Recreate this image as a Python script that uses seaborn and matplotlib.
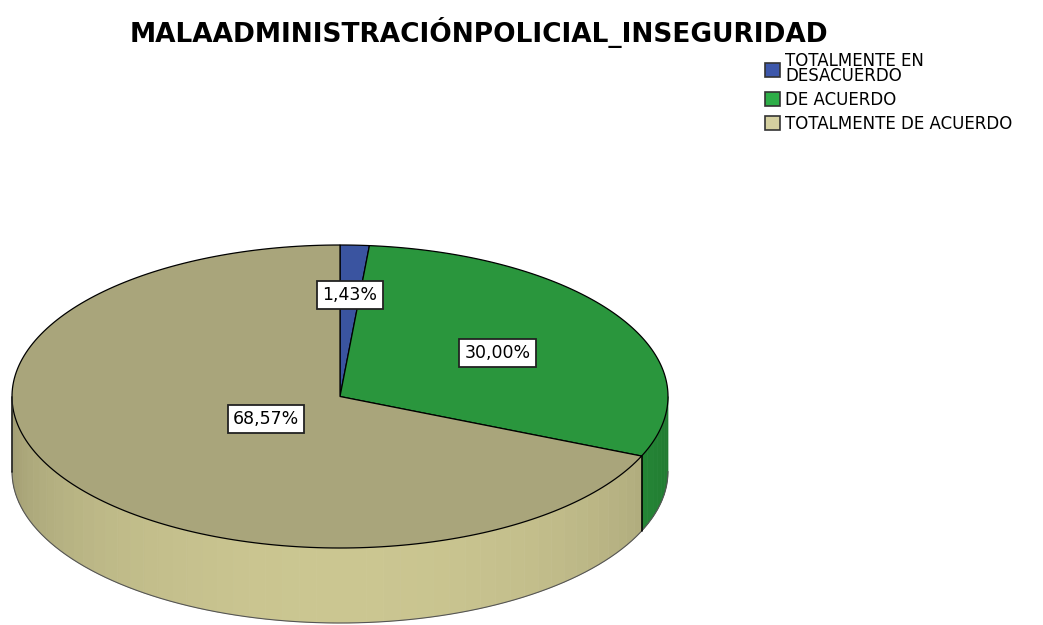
import numpy as np
import matplotlib.pyplot as plt
import seaborn as sns
from matplotlib.patches import Polygon, Patch
from matplotlib.colors import to_rgb

# datos
categories = ["TOTALMENTE EN\nDESACUERDO", "DE ACUERDO", "TOTALMENTE DE ACUERDO"]
percentages = [1.43, 30.00, 68.57]
pct_labels = ["1,43%", "30,00%", "68,57%"]
top_colors = ["#3a54a0", "#2a963d", "#a9a57b"]
wall_colors = ["#3d57aa", "#2a9a3e", "#cbc691"]
legend_colors = ["#3d57aa", "#2eae48", "#d5d0a0"]

sns.set_style("white")
plt.rcParams["font.family"] = ["DejaVu Sans"]
plt.rcParams["text.color"] = "black"

fig = plt.figure(figsize=(10.43, 6.25), dpi=100)
ax = fig.add_axes([0, 0, 1, 1])
ax.set_xlim(0, 1043)
ax.set_ylim(625, 0)
ax.axis("off")

# geometria del pastel 3D (en pixeles)
cx, cy, rx, ry, depth = 340, 396.5, 328, 151.5, 75
label_r = [0.67, 0.56, 0.27]

fr = np.array(percentages) / sum(percentages)
edges = -90 + 360 * np.concatenate([[0], np.cumsum(fr)])


def pt(t, dy=0.0):
    r = np.radians(t)
    return cx + rx * np.cos(r), cy + ry * np.sin(r) + dy


# paredes laterales
for i in range(len(percentages)):
    a, b = max(edges[i], 0), min(edges[i + 1], 180)
    if a >= b:
        continue
    ts = np.linspace(a, b, int((b - a) / 3) + 2)
    base = np.array(to_rgb(wall_colors[i]))
    for t0, t1 in zip(ts[:-1], ts[1:]):
        tm = (t0 + t1) / 2
        f = 0.78 + 0.22 * np.sin(np.radians(tm))
        c = np.clip(base * f, 0, 1)
        quad = [pt(t0), pt(t1), pt(t1, depth), pt(t0, depth)]
        ax.add_patch(Polygon(quad, closed=True, fc=c, ec=c, lw=0.5))

# borde inferior de la pared
tb = np.linspace(0, 180, 200)
bx, by = zip(*[pt(t, depth) for t in tb])
ax.plot(bx, by, color="#555555", lw=0.8)
ax.plot([pt(180)[0]] * 2, [pt(180)[1], pt(180, depth)[1]], color="#222222", lw=1.2)

# linea entre segmentos en la pared
for e in edges[1:-1]:
    if 0 < e < 180:
        x0, y0 = pt(e)
        ax.plot([x0, x0], [y0, y0 + depth], color="black", lw=1.2)

# cara superior
for i in range(len(percentages)):
    ts = np.linspace(edges[i], edges[i + 1], 200)
    poly = [(cx, cy)] + [pt(t) for t in ts]
    ax.add_patch(Polygon(poly, closed=True, fc=top_colors[i], ec="black", lw=0.9))

# etiquetas
for i, lab in enumerate(pct_labels):
    tm = np.radians((edges[i] + edges[i + 1]) / 2)
    x = cx + rx * label_r[i] * np.cos(tm)
    y = cy + ry * label_r[i] * np.sin(tm)
    ax.text(x, y, lab, ha="center", va="center", fontsize=12.5,
            bbox=dict(boxstyle="square,pad=0.3", fc="white", ec="#222222", lw=1.3))

fig.text(0.459, 1 - 33 / 625, "MALAADMINISTRACIÓNPOLICIAL_INSEGURIDAD",
         ha="center", va="center", fontsize=19, fontweight="bold")

handles = [Patch(fc=c, ec="#333333", lw=1.2) for c in legend_colors]
leg = fig.legend(handles, categories, loc="upper left",
                 bbox_to_anchor=(765 / 1043, 1 - 52 / 625),
                 frameon=False, fontsize=12, handlelength=0.9, handleheight=0.9,
                 handletextpad=0.3, labelspacing=0.35, borderpad=0, borderaxespad=0)
for t in leg.get_texts():
    t.set_linespacing(0.8)

fig.savefig("out.png", dpi=100)
